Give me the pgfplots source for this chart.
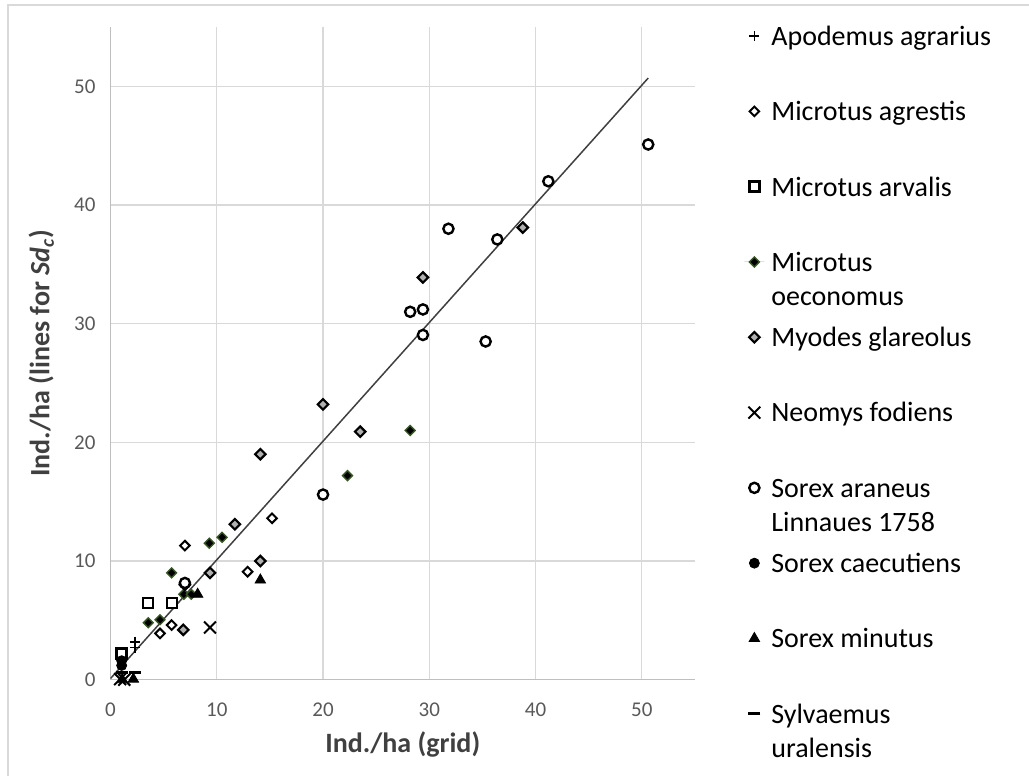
\documentclass[border=0pt]{standalone}
\usepackage{fontspec}
\setmainfont{Carlito}
\usepackage{pgfplots}
\pgfplotsset{compat=1.18}
\definecolor{gridc}{HTML}{D9D9D9}
\definecolor{axc}{HTML}{BFBFBF}
\definecolor{tickc}{HTML}{595959}
\definecolor{labc}{HTML}{404040}
\definecolor{oeco}{HTML}{375623}
\definecolor{myod}{HTML}{B0B0B0}

\begin{document}
\begin{tikzpicture}
\begin{axis}[
    at={(0pt,0pt)}, anchor=south west,
    scale only axis,
    width=292.25pt, height=326.35pt,
    xmin=0, xmax=55, ymin=0, ymax=55,
    xtick={0,10,...,50}, ytick={0,10,...,50},
    axis lines=left,
    axis line style={-, draw=axc, line width=0.6pt},
    grid=major,
    grid style={draw=gridc, line width=0.6pt},
    major tick length=0pt,
    tick label style={font=\fontsize{10.5}{12}\selectfont, text=tickc},
    /pgf/number format/assume math mode=true,
    xticklabel style={yshift=-8pt},
    yticklabel style={xshift=-4pt},
    xlabel={Ind./ha (grid)},
    ylabel={Ind./ha (lines for \textit{Sd\textsubscript{c}})},
    every axis x label/.style={at={(axis description cs:0.5,0)}, anchor=base, yshift=-36.5pt},
    every axis y label/.style={at={(axis description cs:-0.1044,0.5)}, rotate=90, anchor=base},
    label style={font=\bfseries\fontsize{14}{17}\selectfont, text=labc},
    clip mode=individual,
    legend cell align=left,
    legend style={draw=none, fill=none, at={(axis description cs:1.0838,1.0092)}, anchor=north west,
        inner sep=0pt, row sep=0pt, column sep=3.5pt, font=\fontsize{14}{17}\selectfont,
        nodes={inner sep=0pt, text height=12pt, text depth=25.65pt}},
    legend image code/.code={\path[draw=none] (-5pt,11.5pt) -- (5pt,11.5pt); \path[#1] plot coordinates {(0pt,11.5pt)};},
]
% line for Sd_c
\addplot[labc, line width=0.75pt, forget plot] coordinates {(0,0.1) (50.6,50.7)};

\addplot[only marks, black, mark=+, mark size=2.5pt, line width=0.8pt] coordinates {
(2.3,3.2) (2.3,2.7)};
\addlegendentry{Apodemus agrarius}

\addplot[only marks, draw=black, fill=white, mark=square*, mark options={rotate=45}, mark size=1.7pt, line width=1pt] coordinates {
(4.66,3.9) (5.75,4.6) (12.9,9.1) (7.0,11.3) (15.2,13.6)};
\addlegendentry{Microtus agrestis}

\addplot[only marks, draw=black, fill=white, mark=square*, mark size=2.5pt, line width=1.2pt] coordinates {
(1.05,2.2) (3.55,6.45) (5.8,6.45)};
\addlegendentry{Microtus arvalis}

\addplot[only marks, draw=oeco, fill=black, mark=square*, mark options={rotate=45}, mark size=1.75pt, line width=0.7pt] coordinates {
(3.55,4.8) (4.66,5.05) (5.75,9.0) (6.9,7.2) (7.6,7.2) (9.3,11.5) (10.5,12.0) (22.3,17.2) (28.2,21.0)};
\addlegendentry{\parbox[t]{4cm}{Microtus\\oeconomus}}

\addplot[only marks, draw=black, fill=myod, mark=square*, mark options={rotate=45}, mark size=1.85pt, line width=1.1pt] coordinates {
(6.85,4.2) (7.0,8.0) (9.36,9.0) (11.7,13.1) (14.1,10.0) (14.1,19.0) (20.0,23.2) (23.5,20.9) (29.4,33.9) (38.8,38.1)};
\addlegendentry{Myodes glareolus}

\addplot[only marks, black, mark=x, mark size=4.2pt, line width=1pt] coordinates {
(9.36,4.4) (0.9,0.05) (1.3,0)};
\addlegendentry{Neomys fodiens}

\addplot[only marks, draw=black, fill=white, mark=*, mark size=2.55pt, line width=1.2pt] coordinates {
(50.6,45.1) (41.2,42.0) (31.8,38.0) (36.4,37.1) (28.2,31.0) (29.4,31.2) (29.4,29.05) (35.3,28.5) (20.0,15.6) (7.0,8.15)};
\addlegendentry{\parbox[t]{4cm}{Sorex araneus\\Linnaues 1758}}

\addplot[only marks, black, mark=*, mark size=2.5pt] coordinates {
(1.05,1.2) (1.05,1.6)};
\addlegendentry{Sorex caecutiens}

\addplot[only marks, black, mark=triangle*, mark size=3pt] coordinates {
(14.1,8.4) (8.2,7.2) (2.15,0.05) (1.1,0)};
\addlegendentry{Sorex minutus}

\addplot[only marks, black, mark=-, mark size=3pt, line width=1.5pt] coordinates {
(1.1,0.6) (2.3,0.6)};
\addlegendentry{\parbox[t]{4cm}{Sylvaemus\\uralensis}}
\end{axis}
\draw[gridc, line width=0.6pt] (-51.25pt,-48.15pt) -- (-51.25pt,337.35pt) -- (459.25pt,337.35pt);
\pgfresetboundingbox
\path[use as bounding box] (-55.25pt,-48.15pt) rectangle (459.25pt,339.85pt);
\end{tikzpicture}
\end{document}
